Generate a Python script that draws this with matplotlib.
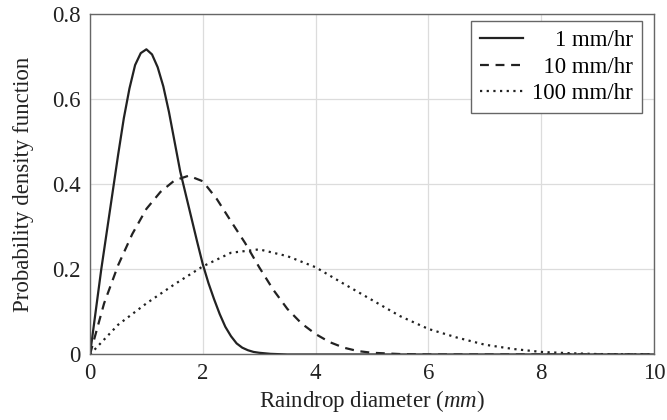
import matplotlib
matplotlib.use("Agg")
import matplotlib.pyplot as plt

# Raindrop diameter (mm) and PDF values
d_1 = [0.0, 0.1, 0.2, 0.3, 0.4, 0.5, 0.6, 0.7, 0.8, 0.9, 1.0, 1.1, 1.2, 1.3, 1.4, 1.5,
       1.6, 1.7, 1.8, 1.9, 2.0, 2.1, 2.2, 2.3, 2.4, 2.5, 2.6, 2.7, 2.8, 2.9, 3.0, 3.2, 3.5, 10.0]
p_1 = [0.0, 0.10, 0.20, 0.29, 0.38, 0.47, 0.555, 0.625, 0.68, 0.708, 0.717, 0.705, 0.675,
       0.63, 0.57, 0.50, 0.43, 0.375, 0.32, 0.265, 0.212, 0.168, 0.13, 0.095, 0.065, 0.043,
       0.026, 0.016, 0.010, 0.006, 0.004, 0.0015, 0.0, 0.0]

d_10 = [0.0, 0.25, 0.5, 0.75, 1.0, 1.25, 1.5, 1.75, 2.0, 2.25, 2.5, 2.75, 3.0, 3.25, 3.5,
        3.75, 4.0, 4.25, 4.5, 4.75, 5.0, 5.5, 6.0, 10.0]
p_10 = [0.0, 0.12, 0.21, 0.283, 0.342, 0.382, 0.409, 0.42, 0.407, 0.365, 0.313, 0.262, 0.205,
        0.152, 0.107, 0.073, 0.048, 0.029, 0.016, 0.008, 0.004, 0.001, 0.0, 0.0]

d_100 = [0.0, 0.5, 1.0, 1.5, 2.0, 2.5, 3.0, 3.5, 4.0, 4.5, 5.0, 5.5, 6.0, 6.5, 7.0, 7.5,
         8.0, 8.5, 9.0, 10.0]
p_100 = [0.0, 0.07, 0.12, 0.165, 0.207, 0.239, 0.247, 0.231, 0.205, 0.166, 0.128, 0.09,
         0.06, 0.04, 0.023, 0.013, 0.006, 0.003, 0.001, 0.0]

labels = ["    1 mm/hr", "  10 mm/hr", "100 mm/hr"]
x_ticks = [0, 2, 4, 6, 8, 10]
y_ticks = [0, 0.2, 0.4, 0.6, 0.8]
y_tick_labels = ["0", "0.2", "0.4", "0.6", "0.8"]

plt.rcParams["font.family"] = ["Liberation Serif", "DejaVu Serif"]
plt.rcParams["mathtext.fontset"] = "custom"
plt.rcParams["mathtext.it"] = "Liberation Serif:italic"
plt.rcParams["mathtext.rm"] = "Liberation Serif"

FS = 16.5
fig = plt.figure(figsize=(6.67, 4.2), dpi=100)
ax = fig.add_axes([0.1349, 0.156, 0.8456, 0.8107])

col = "#222222"
ax.plot(d_1, p_1, color=col, lw=1.6, ls="-", label=labels[0])
ax.plot(d_10, p_10, color=col, lw=1.6, ls=(0, (4, 3)), label=labels[1])
ax.plot(d_100, p_100, color=col, lw=1.6, ls=(0, (1, 2.0)), label=labels[2])

ax.set_xlim(0, 10)
ax.set_ylim(0, 0.8)
ax.set_xticks(x_ticks)
ax.set_xticklabels([str(t) for t in x_ticks])
ax.set_yticks(y_ticks)
ax.set_yticklabels(y_tick_labels)
ax.tick_params(length=0, labelsize=FS, colors="#222222")
ax.tick_params(axis="x", pad=6)
ax.tick_params(axis="y", pad=7)
ax.grid(True, color="#dcdcdc", lw=0.9)
ax.set_axisbelow(True)
for s in ax.spines.values():
    s.set_color("#666666")
    s.set_linewidth(1.0)

ax.set_xlabel("Raindrop diameter ($mm$)", fontsize=FS, color="#222222", labelpad=3)
ax.set_ylabel("Probability density function", fontsize=FS, color="#222222", labelpad=13)

leg = ax.legend(loc="upper right", bbox_to_anchor=(0.9787, 0.9794), borderaxespad=0,
                fontsize=FS, frameon=True, fancybox=False,
                edgecolor="#666666", framealpha=1, handlelength=1.85, handletextpad=0.4,
                borderpad=0.4, labelspacing=0.24)
leg.get_frame().set_linewidth(1.0)

fig.savefig("out.png", dpi=100)
